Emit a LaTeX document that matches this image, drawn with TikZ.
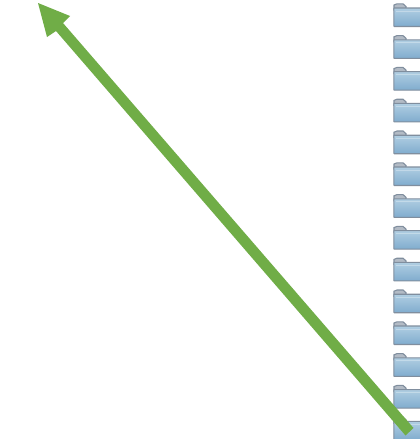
\documentclass[tikz,border=0pt]{standalone}
\definecolor{arrowgreen}{RGB}{112,173,71}
\definecolor{foldedge}{RGB}{128,142,158}
\definecolor{foldtop}{RGB}{176,206,226}
\definecolor{foldbot}{RGB}{128,172,206}
\tikzset{
  foldershape/.style={draw=foldedge,line width=1.1pt,top color=foldtop,bottom color=foldbot,rounded corners=0.5pt},
  foldertab/.style={draw=foldedge,line width=1.1pt,fill=foldedge!60!white},
  pointer/.style={draw=none,fill=arrowgreen}
}
\newcommand{\folderat}[1]{%
  \path[foldertab] (394,{-(#1+7)}) -- (394,{-(#1+2)}) -- (397,{-(#1+0.8)}) -- (403,{-(#1+0.8)}) -- (406,{-(#1+3.5)}) -- (406,{-(#1+7)}) -- cycle;
  \path[foldershape] (393.8,{-(#1+23.5)}) -- (393.8,{-(#1+5)}) -- (421,{-(#1+5)}) -- (421,{-(#1+23.5)}) -- cycle;
  \draw[white,opacity=.3,line width=1pt] (395.5,{-(#1+8)}) -- (421,{-(#1+8)});
}
\begin{document}
\begin{tikzpicture}[x=1pt,y=1pt]
\useasboundingbox[fill=white] (0,0) rectangle (420,-439);
\begin{scope}
\clip (0,0) rectangle (420,-439);
\foreach \t in {3,34.8,66.6,98.4,130.2,162,193.8,225.6,257.4,289.2,321,352.8,384.6,416.4}{\folderat{\t}}
\end{scope}
\coordinate (tip) at (38,-3);
\coordinate (wingA) at (70,-16);
\coordinate (notchA) at (63,-23);
\coordinate (endA) at (413.5,-428);
\coordinate (endB) at (405.5,-435.5);
\coordinate (notchB) at (56,-31);
\coordinate (wingB) at (47,-37);
\path[pointer] (tip) -- (wingA) -- (notchA) -- (endA) -- (endB) -- (notchB) -- (wingB) -- cycle;
\end{tikzpicture}
\end{document}
